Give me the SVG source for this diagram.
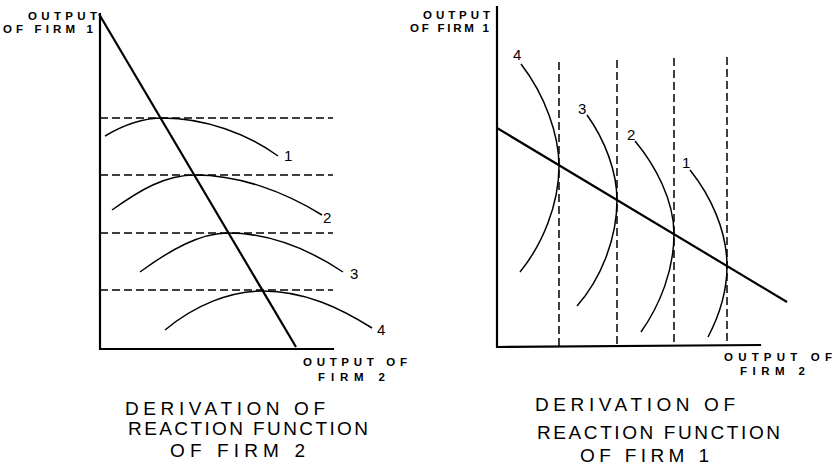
<svg xmlns="http://www.w3.org/2000/svg" width="834" height="465" viewBox="0 0 834 465">
<style>
.axis{stroke:#000;stroke-width:2.2;fill:none;stroke-linecap:square}
.rf{stroke:#000;stroke-width:2.2;fill:none}
.dash{stroke:#000;stroke-width:1.5;fill:none;stroke-dasharray:8 4}
.iso{stroke:#000;stroke-width:1.5;fill:none}
.lab{font-family:"Liberation Sans",Arial,sans-serif;font-weight:bold;font-size:11.5px;fill:#000}
.num{font-family:"Liberation Sans",Arial,sans-serif;font-size:15px;fill:#000}
.title{font-family:"Liberation Sans",Arial,sans-serif;font-size:19px;fill:#000}
</style>
<rect width="834" height="465" fill="#fff"/>
<g id="left-panel">
  <g id="left-axes">
    <path class="axis" d="M100,14 L100,349 L333,349"/>
  </g>
  <g id="left-dashed">
    <path class="dash" d="M100,118 H333 M100,175 H333 M100,233 H333 M100,290 H333"/>
  </g>
  <g id="left-curves">
    <path class="iso" d="M105,136 C125,124 143,118 163,118 C205,118 248,134 278,156"/>
    <path class="iso" d="M112,210 C140,190 165,175 195,175 C240,175 285,192 322,215"/>
    <path class="iso" d="M140,272 C170,250 200,233 228,233 C270,233 310,250 343,272"/>
    <path class="iso" d="M165,330 C195,305 230,291 263,291 C305,291 340,308 372,328"/>
  </g>
  <g id="left-reaction">
    <path class="rf" d="M99,14 L296,347"/>
  </g>
  <g id="left-labels">
    <text class="num" x="284" y="161">1</text>
    <text class="num" x="323" y="223">2</text>
    <text class="num" x="350" y="279">3</text>
    <text class="num" x="377" y="335">4</text>
    <text class="lab" x="28" y="20" textLength="69" lengthAdjust="spacing">OUTPUT</text>
    <text class="lab" x="3" y="33" textLength="90" lengthAdjust="spacing">OF FIRM 1</text>
    <text class="lab" x="303" y="366" textLength="104" lengthAdjust="spacing">OUTPUT OF</text>
    <text class="lab" x="318" y="381" textLength="67" lengthAdjust="spacing">FIRM 2</text>
    <text class="title" x="125" y="415" textLength="200" lengthAdjust="spacing">DERIVATION OF</text>
    <text class="title" x="128" y="435" textLength="240" lengthAdjust="spacing">REACTION FUNCTION</text>
    <text class="title" x="170" y="457" textLength="135" lengthAdjust="spacing">OF FIRM 2</text>
  </g>
</g>
<g id="right-panel">
  <g id="right-axes">
    <path class="axis" d="M497,7 L497,347 L760,345"/>
  </g>
  <g id="right-dashed">
    <path class="dash" d="M559,62 V347 M617,60 V346 M674,58 V346 M727,57 V345"/>
  </g>
  <g id="right-curves">
    <path class="iso" d="M521,64 C545,95 559,135 559,166 C559,205 542,245 520,272"/>
    <path class="iso" d="M587,115 C605,140 617,172 617,200 C617,240 600,280 577,306"/>
    <path class="iso" d="M635,141 C655,165 674,200 674,234 C674,270 660,305 641,332"/>
    <path class="iso" d="M690,170 C710,195 727,230 727,266 C727,295 718,318 708,337"/>
  </g>
  <g id="right-reaction">
    <path class="rf" d="M497,128 L787,302"/>
  </g>
  <g id="right-labels">
    <text class="num" x="513" y="60">4</text>
    <text class="num" x="578" y="114">3</text>
    <text class="num" x="627" y="140">2</text>
    <text class="num" x="682" y="168">1</text>
    <text class="lab" x="423" y="19" textLength="67" lengthAdjust="spacing">OUTPUT</text>
    <text class="lab" x="410" y="32" textLength="79" lengthAdjust="spacing">OF FIRM 1</text>
    <text class="lab" x="724" y="361" textLength="108" lengthAdjust="spacing">OUTPUT OF</text>
    <text class="lab" x="740" y="375" textLength="65" lengthAdjust="spacing">FIRM 2</text>
    <text class="title" x="535" y="411" textLength="200" lengthAdjust="spacing">DERIVATION OF</text>
    <text class="title" x="537" y="439" textLength="243" lengthAdjust="spacing">REACTION FUNCTION</text>
    <text class="title" x="580" y="462" textLength="129" lengthAdjust="spacing">OF FIRM 1</text>
  </g>
</g>
</svg>
